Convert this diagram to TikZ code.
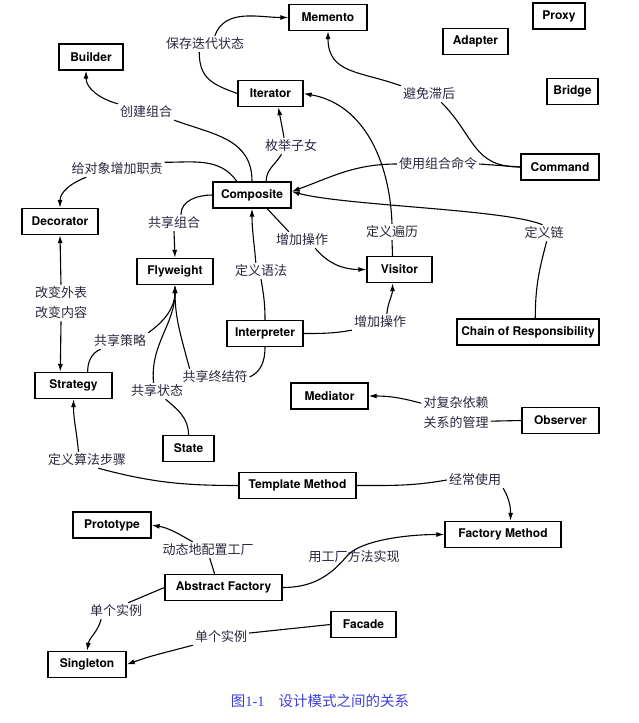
\documentclass[tikz,border=0pt]{standalone}
\usepackage{fontspec}
\setmainfont{TeX Gyre Heros}
\newfontfamily\cjk{Noto Sans CJK SC}
\newfontfamily\capnum{Liberation Serif}
\usetikzlibrary{arrows.meta}
\definecolor{ink}{RGB}{40,40,62}
\definecolor{capblue}{RGB}{62,62,220}
\begin{document}
\begin{tikzpicture}[x=1pt,y=1pt]
    %
    % `pattern' is used for the boxed pattern names.
    % `relation' is used for the texts that sit on the connectors.
    % `link' is used for a connector piece with no tip.
    % `uses' is used for a connector piece that ends in a tip.
    \tikzstyle{pattern} = [draw,fill=white,line width=1.35pt,inner sep=2pt,minimum height=26pt,font=\bfseries\fontsize{12}{14}\selectfont]
    \tikzstyle{relation} = [inner sep=2pt,text=ink,align=center,font=\cjk\fontsize{13}{20}\selectfont]
    \tikzstyle{link} = [line width=1.1pt]
    \tikzstyle{uses} = [link,-{Latex[length=8pt,width=5pt]}]
    %
    \useasboundingbox (0,0) rectangle (638,-723);
    %
    % Patterns
    \node[pattern,minimum width=78pt] (memento) at (328,-17.5) {Memento};
    \node[pattern,minimum width=52pt] (proxy) at (559,-16) {Proxy};
    \node[pattern,minimum width=65pt] (adapter) at (475.5,-41.5) {Adapter};
    \node[pattern,minimum width=51pt] (bridge) at (572.5,-91.5) {Bridge};
    \node[pattern,minimum width=78pt] (command) at (560,-167) {Command};
    \node[pattern,minimum width=64pt] (builder) at (91,-57) {Builder};
    \node[pattern,minimum width=65pt] (iterator) at (270.5,-93.5) {Iterator};
    \node[pattern,minimum width=78pt] (composite) at (252,-195) {Composite};
    \node[pattern,minimum width=76pt] (decorator) at (60,-221.5) {Decorator};
    \node[pattern,minimum width=76pt] (flyweight) at (175,-271.5) {Flyweight};
    \node[pattern,minimum width=65pt] (visitor) at (399.5,-269.5) {Visitor};
    \node[pattern,minimum width=76pt] (interpreter) at (265,-333.5) {Interpreter};
    \node[pattern,minimum width=142pt] (chain) at (528,-332) {Chain of Responsibility};
    \node[pattern,minimum width=77pt] (strategy) at (73.5,-385.5) {Strategy};
    \node[pattern,minimum width=51pt] (state) at (188.5,-448.5) {State};
    \node[pattern,minimum width=77pt] (mediator) at (329.5,-396) {Mediator};
    \node[pattern,minimum width=77pt] (observer) at (560.5,-420.5) {Observer};
    \node[pattern,minimum width=117pt] (template) at (297.5,-485.5) {Template Method};
    \node[pattern,minimum width=78pt] (prototype) at (112,-525) {Prototype};
    \node[pattern,minimum width=116pt] (factory) at (503,-534.5) {Factory Method};
    \node[pattern,minimum width=117pt] (abstract) at (223.5,-587.5) {Abstract Factory};
    \node[pattern,minimum width=65pt] (facade) at (363.5,-624.5) {Facade};
    \node[pattern,minimum width=78pt] (singleton) at (87,-664.5) {Singleton};
    %
    % Relations
    \node[relation] (lmemento) at (205,-44) {保存迭代状态};
    \node[relation] (lbuilder) at (146,-112) {创建组合};
    \node[relation] (lenum) at (291,-146) {枚举子女};
    \node[relation] (ldecorate) at (117,-169) {给对象增加职责};
    \node[relation] (llag) at (429,-94) {避免滞后};
    \node[relation] (lcommand) at (438,-164) {使用组合命令};
    \node[relation] (lshare) at (174,-223) {共享组合};
    \node[relation] (lopa) at (302,-240) {增加操作};
    \node[relation] (ltraverse) at (392,-232) {定义遍历};
    \node[relation] (lchain) at (544,-233) {定义链};
    \node[relation] (lgrammar) at (261,-271) {定义语法};
    \node[relation] (lskin) at (61,-303) {改变外表\\改变内容};
    \node[relation] (lstrat) at (120,-341) {共享策略};
    \node[relation] (lopb) at (380,-322) {增加操作};
    \node[relation] (lterm) at (215,-377) {共享终结符};
    \node[relation] (lstate) at (157,-391) {共享状态};
    \node[relation] (ldepend) at (456,-412.5) {对复杂依赖\\关系的管理};
    \node[relation] (lsteps) at (87,-460) {定义算法步骤};
    \node[relation] (loften) at (475,-480) {经常使用};
    \node[relation] (lconfig) at (208,-550) {动态地配置工厂};
    \node[relation] (limpl) at (354,-557) {用工厂方法实现};
    \node[relation] (lsingle) at (116,-611) {单个实例};
    \node[relation] (lsingleb) at (221,-637) {单个实例};
    \coordinate (implmid) at (347,-556);
    %
    % Upper part
    \draw[link] (iterator.west) to[out=160,in=-90,looseness=1.2] (lmemento.-125);
    \draw[uses] (lmemento.40) to[out=70,in=180] (memento.west);
    \draw[link] (composite.north) to[out=90,in=-20,looseness=1.1] (lbuilder.south east);
    \draw[uses] (lbuilder.north west) to[out=165,in=-90] (builder.-110);
    \draw[link] (composite.44) to[out=90,in=-120] (lenum.-139);
    \draw[uses] (lenum.130) to[out=100,in=-80] (iterator.-60);
    \draw[link] (composite.138) to[out=125,in=0] (ldecorate.8);
    \draw[uses] (ldecorate.195) to[out=200,in=90] (decorator.north);
    \draw[link] (command.west) to[out=180,in=-45,looseness=1.2] (llag.-34);
    \draw[uses] (llag.north west) to[out=160,in=-90,looseness=1.2] (memento.south);
    \draw[link] (command.west) -- (lcommand.east);
    \draw[uses] (lcommand.west) to[out=180,in=20] (composite.5);
    \draw[link] (chain.62) to[out=90,in=-105] (lchain.-72);
    \draw[uses] (lchain.100) to[out=157,in=-15,out distance=40pt,in distance=55pt] (composite.5);
    \draw[link] (visitor.117) -- (ltraverse.south);
    \draw[uses] (ltraverse.north) to[out=92,in=-10] (iterator.east);
    \draw[link] (composite.-42) -- (lopa.148);
    \draw[uses] (lopa.-32) to[out=-50,in=180] (visitor.west);
    %
    % Middle part
    \draw[link] (composite.west) to[out=180,in=90] (lshare.50);
    \draw[uses] (lshare.south) -- (flyweight.north);
    \draw[link] (interpreter.north) to[out=90,in=-80] (lgrammar.south);
    \draw[uses] (lgrammar.122) to[out=95,in=-90] (composite.south);
    \draw[link] (interpreter.east) to[out=0,in=190] (lopb.south west);
    \draw[uses] (lopb.50) to[out=85,in=-90] (visitor.-117);
    \draw[uses] (lskin.north) -- (decorator.south);
    \draw[uses] (lskin.south) -- (strategy.134);
    \draw[link] (strategy.44) to[out=90,in=-157] (lstrat.-157);
    \draw[uses] (lstrat.north east) to[out=35,in=-90] (flyweight.south);
    \draw[link] (state.north) to[out=90,in=-40] (lstate.-44);
    \draw[uses] (lstate.113) to[out=95,in=-90] (flyweight.south);
    \draw[link] (interpreter.south) to[out=-90,in=25] (lterm.east);
    \draw[uses] (lterm.162) to[out=105,in=-90] (flyweight.south);
    \draw[link] (observer.west) -- (ldepend.-14);
    \draw[uses] (ldepend.165) to[out=165,in=0] (mediator.east);
    %
    % Lower part
    \draw[link] (template.west) to[out=180,in=-15] (lsteps.-36);
    \draw[uses] (lsteps.136) to[out=95,in=-90] (strategy.south);
    \draw[link] (template.east) to[out=0,in=-170] (loften.west);
    \draw[uses] (loften.south east) to[out=-60,in=90] (factory.61);
    \draw[link] (abstract.123) -- (lconfig.-78);
    \draw[uses] (lconfig.152) to[out=150,in=-10] (prototype.east);
    \draw[uses] (abstract.east) to[out=0,in=-130] (implmid) to[out=50,in=180,out distance=20pt] (factory.west);
    \draw[link] (abstract.west) -- (lsingle.34);
    \draw[uses] (lsingle.-151) to[out=-105,in=80] (singleton.north);
    \draw[link] (facade.west) -- (lsingleb.8);
    \draw[uses] (lsingleb.south west) to[out=-165,in=20] (singleton.east);
    %
    % Caption
    \node[text=capblue,font=\fontsize{14.5}{16}\selectfont] (caption) at (320,-701) {{\cjk 图}{\capnum 1-1}\hspace{14pt}{\cjk 设计模式之间的关系}};
\end{tikzpicture}
\end{document}
